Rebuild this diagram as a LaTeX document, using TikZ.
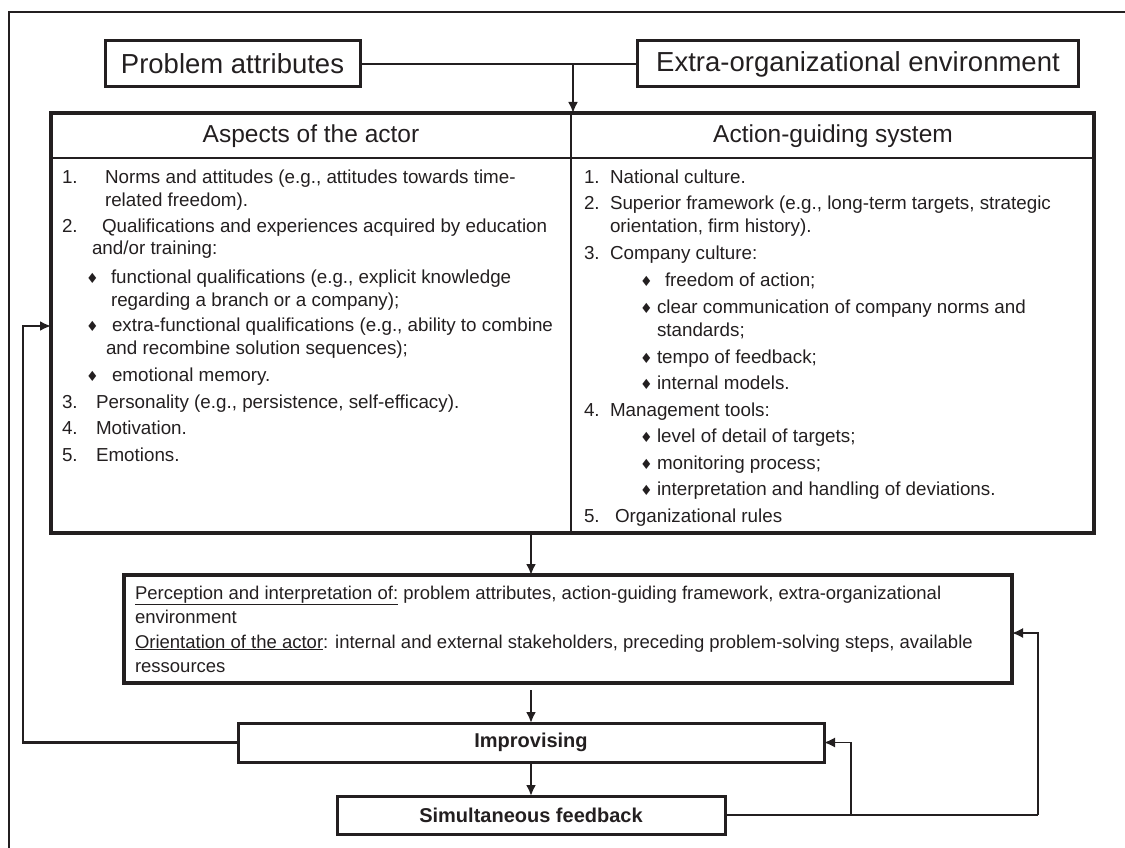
\documentclass[tikz,border=0pt]{standalone}
\usepackage{fontspec}
\setmainfont{Liberation Sans}
\newfontfamily\symfont{DejaVu Sans}
\usetikzlibrary{arrows.meta}
\definecolor{ink}{RGB}{35,31,32}
\newcommand\bodyfont{\fontsize{18.8}{22}\selectfont}
\newcommand\dia{{\symfont\fontsize{14}{14}\selectfont ♦}}
\newcommand\tl[4]{\node[txt] (#1) at (#2,#3) {#4};}
\tikzset{
  box/.style={draw=ink, line width=3pt, inner sep=0pt, outer sep=0pt, text=ink},
  bigbox/.style={draw=ink, line width=4pt, inner sep=0pt, outer sep=0pt},
  txt/.style={anchor=base west, inner sep=0pt, outer sep=0pt, text=ink, font=\bodyfont},
  ptxt/.style={anchor=base west, inner sep=0pt, outer sep=0pt, text=ink, font=\fontsize{18.5}{22}\selectfont},
  conn/.style={draw=ink, line width=2.5pt},
  thin/.style={draw=ink, line width=1.6pt},
  arr/.style={-{Latex[length=11pt,width=10pt]}},
}
\begin{document}
\begin{tikzpicture}[x=1pt,y=-1pt]
\useasboundingbox (0,0) rectangle (1125,848);
% outer frame
\draw[ink, line width=2.2pt] (9,900) -- (9,12) -- (1200,12);

% top boxes
\node[box, minimum width=255pt, minimum height=46pt, font=\fontsize{27.5}{30}\selectfont] (pa) at (232.5,64) {Problem attributes};
\node[box, minimum width=441pt, minimum height=46pt, font=\fontsize{27.5}{30}\selectfont] (eo) at (858,64) {Extra-organizational environment};
\coordinate (j) at (573,64);
\draw[conn] (pa.east) -- (eo.west);

% main box
\node[bigbox, minimum width=1043pt, minimum height=420pt] (main) at (572.5,323) {};
\coordinate (hl) at (51,158);
\coordinate (hr) at (1094,158);
\draw[ink, line width=2.5pt] (hl) -- (hr);
\draw[ink, line width=2.8pt] (571,113) -- (571,533);
\draw[conn, arr] (j) -- (j |- main.north);

\node[text=ink, inner sep=0pt, font=\fontsize{24.5}{26}\selectfont] (h1) at (311,136) {Aspects of the actor};
\node[text=ink, inner sep=0pt, font=\fontsize{24.5}{26}\selectfont] (h2) at (833,136) {Action-guiding system};

% left column
\tl{a1n}{62}{184}{1.}
\tl{a1t}{105}{184}{Norms and attitudes (e.g., attitudes towards time-}
\tl{a1u}{105}{206}{related freedom).}
\tl{a2n}{62}{233}{2.}
\tl{a2t}{102}{233}{Qualifications and experiences acquired by education}
\tl{a2u}{92}{254}{and/or training:}
\tl{a2ad}{86}{283}{\dia}
\tl{a2at}{111}{283}{functional qualifications (e.g., explicit knowledge}
\tl{a2au}{111}{306}{regarding a branch or a company);}
\tl{a2bd}{86}{331}{\dia}
\tl{a2bt}{112}{331}{extra-functional qualifications (e.g., ability to combine}
\tl{a2bu}{106}{354}{and recombine solution sequences);}
\tl{a2cd}{86}{381}{\dia}
\tl{a2ct}{112}{381}{emotional memory.}
\tl{a3n}{62}{408}{3.}
\tl{a3t}{96}{408}{Personality (e.g., persistence, self-efficacy).}
\tl{a4n}{62}{434}{4.}
\tl{a4t}{96}{434}{Motivation.}
\tl{a5n}{62}{461}{5.}
\tl{a5t}{96}{461}{Emotions.}

% right column
\tl{b1n}{584}{184}{1.}
\tl{b1t}{610}{184}{National culture.}
\tl{b2n}{584}{209}{2.}
\tl{b2t}{610}{209}{Superior framework (e.g., long-term targets, strategic}
\tl{b2u}{610}{232}{orientation, firm history).}
\tl{b3n}{584}{259}{3.}
\tl{b3t}{610}{259}{Company culture:}
\tl{b3ad}{640}{286}{\dia}
\tl{b3at}{665}{286}{freedom of action;}
\tl{b3bd}{640}{313}{\dia}
\tl{b3bt}{657}{313}{clear communication of company norms and}
\tl{b3bu}{657}{336}{standards;}
\tl{b3cd}{640}{363}{\dia}
\tl{b3ct}{657}{363}{tempo of feedback;}
\tl{b3dd}{640}{389}{\dia}
\tl{b3dt}{657}{389}{internal models.}
\tl{b4n}{584}{416}{4.}
\tl{b4t}{610}{416}{Management tools:}
\tl{b4ad}{640}{442}{\dia}
\tl{b4at}{657}{442}{level of detail of targets;}
\tl{b4bd}{640}{469}{\dia}
\tl{b4bt}{657}{469}{monitoring process;}
\tl{b4cd}{640}{495}{\dia}
\tl{b4ct}{657}{495}{interpretation and handling of deviations.}
\tl{b5n}{584}{522}{5.}
\tl{b5t}{615}{522}{Organizational rules}

% perception box
\node[bigbox, minimum width=888pt, minimum height=108pt] (pe) at (568,629) {};
\node[ptxt] (p1) at (135,599) {\underline{Perception and interpretation of:} problem attributes, action-guiding framework, extra-organizational};
\node[ptxt] (p2) at (135,623) {environment};
\node[ptxt] (p3) at (135,648) {\underline{Orientation of the actor}: internal and external stakeholders, preceding problem-solving steps, available};
\node[ptxt] (p4) at (135,672) {ressources};

% improvising and feedback
\node[box, minimum width=586pt, minimum height=39pt, font=\fontsize{20}{22}\selectfont\bfseries] (im) at (531,742.5) {Improvising};
\node[box, minimum width=388pt, minimum height=38pt, font=\fontsize{20}{22}\selectfont\bfseries] (sf) at (531,815) {Simultaneous feedback};

\coordinate (cx) at (531,0);
\draw[conn, arr] (cx |- main.south) -- (cx |- pe.north);
\draw[conn, arr, shorten <=7pt] (cx |- pe.south) -- (im.north);
\draw[conn, arr] (im.south) -- (sf.north);

% right feedback loops
\coordinate (r1) at (1038,815);
\coordinate (r2) at (1038,633);
\coordinate (b1) at (851,815);
\coordinate (b2) at (851,742.5);
\draw[thin] (sf.east) -- (r1);
\draw[thin, arr] (r1) -- (r2) -- (pe.east |- r2);
\draw[thin, arr] (b1) -- (b2) -- (im.east);

% left feedback loop
\coordinate (l1) at (23,742.5);
\coordinate (l2) at (23,326);
\draw[conn, arr] (im.west) -- (l1) -- (l2) -- (main.west |- l2);
\end{tikzpicture}
\end{document}
